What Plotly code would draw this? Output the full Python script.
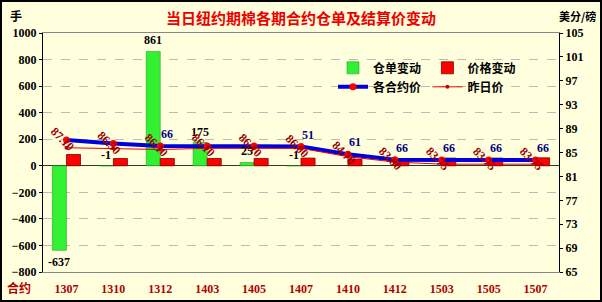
import plotly.graph_objects as go

contracts = ["1307", "1310", "1312", "1403", "1405", "1407", "1410", "1412", "1503", "1505", "1507"]
warrant_change = [-637, -1, 861, 175, 25, -1, None, None, None, None, None]
warrant_labels = ["-637", "-1", "861", "175", "25", "-1", "", "", "", "", ""]
price_change = [85, 55, 55, 55, 55, 58, 50, 55, 58, 58, 60]
settle = [87.1, 86.5, 86.1, 86.1, 86.1, 86.0, 84.7, 83.8, 83.75, 83.75, 83.75]
prev_settle = [85.8, 85.7, 85.5, 85.7, 85.7, 85.7, 84.3, 83.4, 83.05, 83.05, 83.05]
blue_labels = ["", "", "66", "", "", "51", "61", "66", "66", "66", "66"]
left_ticks = [-800, -600, -400, -200, 0, 200, 400, 600, 800, 1000]
right_ticks = [65, 69, 73, 77, 81, 85, 89, 93, 97, 101, 105]

BG = "#FFFFDD"
CJK = "Noto Sans CJK SC"
NUM = "Liberation Serif"
PW, PH = 516, 239

fig = go.Figure()
fig.add_trace(go.Bar(
    x=contracts, y=warrant_change, name="仓单变动", legend="legend",
    marker=dict(color="#33F033", line=dict(color="#1A8A1A", width=0.5)),
    yaxis="y",
))
fig.add_trace(go.Bar(
    x=contracts, y=price_change, name="价格变动", legend="legend2",
    marker=dict(color="#FF0000", line=dict(color="#800000", width=0.8)),
    yaxis="y",
))
fig.add_trace(go.Scatter(
    x=contracts, y=settle, name="各合约价", mode="lines+markers", legend="legend",
    line=dict(color="#0000DD", width=4),
    marker=dict(color="#FF0000", size=7),
    yaxis="y2",
))
fig.add_trace(go.Scatter(
    x=contracts, y=prev_settle, name="昨日价", mode="lines+markers", legend="legend2",
    line=dict(color="#EE0000", width=1),
    marker=dict(color="#CC0000", size=4),
    yaxis="y2",
))

annotations = []
for i, (v, t) in enumerate(zip(warrant_change, warrant_labels)):
    if v is None or t == "":
        continue
    if v < -10:
        annotations.append(dict(x=i, y=v, xref="x", yref="y", text=t, showarrow=False,
                                yanchor="top", xshift=-7, yshift=-3,
                                font=dict(family=NUM, size=12, color="black", weight="bold")))
    else:
        annotations.append(dict(x=i, y=max(v, 0), xref="x", yref="y", text=t, showarrow=False,
                                yanchor="bottom", xshift=-7, yshift=2,
                                font=dict(family=NUM, size=12, color="black", weight="bold")))
for i, v in enumerate(settle):
    annotations.append(dict(x=i, y=v, xref="x", yref="y2", text=f"{v:.2f}", showarrow=False,
                            textangle=45, xshift=-4, yshift=1,
                            font=dict(family=NUM, size=12, color="#990000", weight="bold")))
for i, (v, t) in enumerate(zip(settle, blue_labels)):
    if t == "":
        continue
    annotations.append(dict(x=i, y=v, xref="x", yref="y2", text=t, showarrow=False,
                            yanchor="bottom", xshift=7, yshift=3,
                            font=dict(family=NUM, size=12, color="#000080", weight="bold")))

TOP = 1 + 33 / PH
annotations += [
    dict(x=0.5, y=TOP, xref="paper", yref="paper", xanchor="center", yanchor="top", yshift=-5,
         text="当日纽约期棉各期合约仓单及结算价变动",
         showarrow=False, font=dict(family=CJK, size=15, color="#EE0000", weight="bold")),
    dict(x=-35 / PW, y=TOP, xref="paper", yref="paper", xanchor="left", yanchor="top", yshift=-5,
         text="手", showarrow=False, font=dict(family=CJK, size=12, color="black", weight="bold")),
    dict(x=1 + 39 / PW, y=TOP, xref="paper", yref="paper", xanchor="right", yanchor="top", yshift=-6,
         text="美分/磅", showarrow=False, font=dict(family=CJK, size=11, color="black", weight="bold")),
    dict(x=-38 / PW, y=0, xref="paper", yref="paper", xanchor="left", yanchor="middle", yshift=-15,
         text="合约", showarrow=False, font=dict(family=CJK, size=12, color="#B00000", weight="bold")),
]

legend_common = dict(orientation="v", xanchor="left", yanchor="top", bgcolor="rgba(0,0,0,0)",
                     font=dict(family=CJK, size=12, color="black", weight="bold"))

fig.update_layout(
    width=602, height=302,
    margin=dict(l=43, r=43, t=33, b=30, autoexpand=False),
    paper_bgcolor=BG, plot_bgcolor=BG,
    barmode="group", bargap=0.4, bargroupgap=0,
    showlegend=True,
    legend=dict(x=0.562, y=0.915, **legend_common),
    legend2=dict(x=0.745, y=0.915, **legend_common),
    xaxis=dict(type="category", range=[-0.5, 10.5], autorange=False, automargin=False,
               showline=True, linecolor="#888888", linewidth=1, mirror=True,
               ticks="", ticklabelstandoff=6,
               tickfont=dict(family=NUM, size=12, color="#B00000", weight="bold"),
               showgrid=False),
    yaxis=dict(range=[-800, 1000], tickvals=left_ticks, showline=True, linecolor="black",
               automargin=False,
               linewidth=1, ticks="outside", ticklen=3, tickcolor="black",
               showgrid=True, gridcolor="#BBBBBB", griddash="dash", gridwidth=1,
               zeroline=True, zerolinecolor="#333333", zerolinewidth=1,
               tickfont=dict(family=NUM, size=12, color="black", weight="bold")),
    yaxis2=dict(range=[65, 105], tickvals=right_ticks, overlaying="y", side="right",
                automargin=False,
                showline=True, linecolor="black", linewidth=1, ticks="outside", ticklen=3,
                tickcolor="black", showgrid=False, zeroline=False,
                tickfont=dict(family=NUM, size=12, color="black", weight="bold")),
    annotations=annotations,
    shapes=[dict(type="rect", xref="paper", yref="paper",
                 x0=-42 / PW, x1=1 + 42 / PW, y0=-29 / PH, y1=1 + 32 / PH,
                 line=dict(color="black", width=2), fillcolor="rgba(0,0,0,0)", layer="above")],
)

fig.write_html("out.html")
